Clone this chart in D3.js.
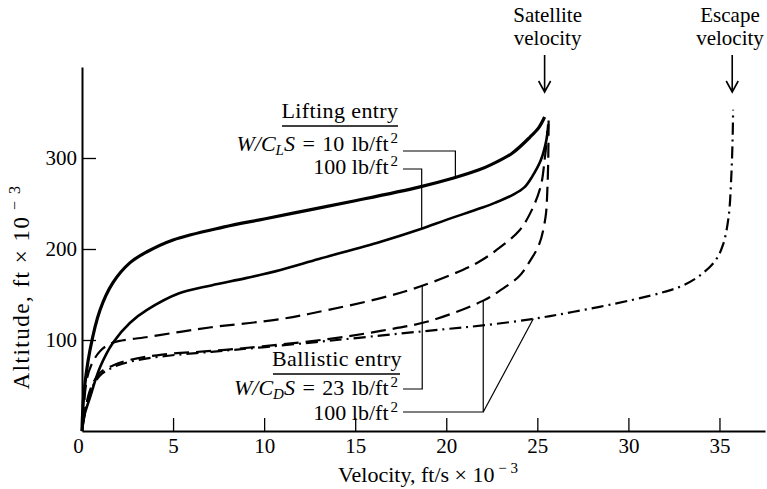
<!DOCTYPE html>
<html>
<head>
<meta charset="utf-8">
<script src="https://cdn.jsdelivr.net/npm/d3@7"></script>
<style>
  body { margin: 0; background: #fff; }
  svg text { font-family: "Liberation Serif", "Times New Roman", serif; fill: #000; }
  .axis path, .axis line { stroke: #000; }
</style>
</head>
<body>
<div id="grafica"></div>
<script>
// ticks
const xTicks = [0, 5, 10, 15, 20, 25, 30, 35]
const yTicks = [100, 200, 300]

// [velocity (ft/s x 10^-3), altitude (ft x 10^-3)]
const lifting10 = [[0,0],[0.1,40],[0.44,89],[0.99,133],[1.7,163],[2.64,185],[3.57,197],[5,210],[7.75,224],
  [10,233],[12.5,243],[15,253],[18.5,268],[20.4,278],[21.8,287],[22.5,293],[23.6,305],[24.6,323],[25.1,334],[25.4,345]]
const lifting100 = [[0,0],[0.1,15],[0.44,37],[0.99,70],[1.7,97],[2.64,119],[3.57,133],[5.3,151],[7.1,160],[9,168],
  [10.9,177],[13,189],[16.4,208],[18.6,222],[20,232],[21.9,245],[22.7,251],[23.7,260],[24.3,268],[24.7,279],
  [25.2,298],[25.5,320],[25.6,337]]
const ballistic23 = [[0.05,10],[0.25,55],[0.5,72],[1,88],[1.7,97],[3.5,103],[5.4,109],[7.1,114],[10.9,123],
  [13.5,133],[16.4,146],[18.6,159],[20.9,177],[21.8,186],[22.7,198],[24,220],[24.7,243],[25.2,270],[25.4,298],
  [25.5,316],[25.55,330]]
const ballistic100 = [[0.05,8],[0.44,45],[0.99,64],[1.7,72],[2.6,78],[4.4,84],[7.1,88],[9.9,93],[13.5,101],
  [16.4,110],[19.1,121],[22,143],[23,155],[24,170],[24.6,187],[25.1,205],[25.45,235],[25.55,265],[25.6,300],[25.62,345]]
const escape = [[0.05,6],[0.44,42],[0.99,61],[1.7,70],[2.6,76],[4.4,82],[7.1,87],[9.9,92],[13.5,99],[17.4,107],
  [20,112],[22,116],[24.7,123],[27,131],[30.2,144],[32,153],[33,160],[34,172],[34.8,188],[35.2,205],[35.5,235],
  [35.65,280],[35.72,320],[35.75,353]]

const satelliteV = 25.4
const escapeV = 35.7

// figura
const ancho = 767, alto = 489
const margin = {top: 67, right: 2, bottom: 58, left: 82}
const width = ancho - margin.left - margin.right
const height = alto - margin.top - margin.bottom

const svg = d3.select("#grafica").append("svg")
  .attr("width", ancho).attr("height", alto)

const x = d3.scaleLinear().domain([0, 37.5]).range([margin.left, margin.left + width])
const y = d3.scaleLinear().domain([0, 400]).range([margin.top + height, margin.top])

// ejes
const xAxis = svg.append("g").attr("class", "axis")
  .attr("transform", `translate(0,${y(0)})`)
  .call(d3.axisBottom(x).tickValues(xTicks).tickSize(-13).tickSizeOuter(0).tickPadding(7))
const yAxis = svg.append("g").attr("class", "axis")
  .attr("transform", `translate(${x(0)},0)`)
  .call(d3.axisLeft(y).tickValues(yTicks).tickSize(-14).tickSizeOuter(0).tickPadding(5))

svg.selectAll(".axis .domain").attr("stroke-width", 2)
svg.selectAll(".axis .tick line").attr("stroke-width", 1.3)
svg.selectAll(".axis text").attr("font-size", 21).attr("font-family", "Liberation Serif")
xAxis.selectAll(".tick").filter(d => d === 0).select("text").attr("dx", -4)

// titulos de ejes
const xt = svg.append("text").attr("x", 428).attr("y", 482)
  .attr("text-anchor", "middle").attr("font-size", 22)
xt.append("tspan").text("Velocity, ft/s × 10")
xt.append("tspan").attr("dy", -9).attr("font-size", 15).text(" − 3")

const yt = svg.append("text")
  .attr("transform", `translate(29,287) rotate(-90)`)
  .attr("text-anchor", "middle").attr("font-size", 23).attr("letter-spacing", 1.5)
yt.append("tspan").text("Altitude, ft × 10")
yt.append("tspan").attr("dy", -9).attr("font-size", 16).text(" − 3")

// curvas
const line = d3.line().x(d => x(d[0])).y(d => y(d[1])).curve(d3.curveCatmullRom.alpha(0.5))
const series = [
  {data: lifting10, w: 3.2, dash: null},
  {data: lifting100, w: 2.6, dash: null},
  {data: ballistic23, w: 2.2, dash: "15,7"},
  {data: ballistic100, w: 2.2, dash: "15,7"},
  {data: escape, w: 2.2, dash: "12,5,2,5"}
]
svg.append("g").selectAll("path").data(series).join("path")
  .attr("d", d => line(d.data))
  .attr("fill", "none").attr("stroke", "#000")
  .attr("stroke-width", d => d.w)
  .attr("stroke-dasharray", d => d.dash)
  .attr("stroke-linecap", "butt")

// altitud de una curva a cierta velocidad
function hAt(data, v) {
  for (let i = 1; i < data.length; i++) {
    if (data[i][0] >= v) {
      const a = data[i - 1], b = data[i]
      return a[1] + (b[1] - a[1]) * (v - a[0]) / (b[0] - a[0])
    }
  }
  return data[data.length - 1][1]
}

// texto con cursivas, subindices y superindices
function richText(xr, yb, parts, spacing) {
  const t = svg.append("text").attr("x", xr).attr("y", yb)
    .attr("text-anchor", "end").attr("font-size", 22)
  if (spacing) t.attr("word-spacing", spacing)
  let shift = 0
  parts.forEach(p => {
    const s = t.append("tspan").text(p.t)
    let target = 0
    if (p.s === "sub") { target = 4; s.attr("font-size", 15).attr("font-style", "italic") }
    else if (p.s === "sup") { target = -8; s.attr("font-size", 15).attr("dx", 2) }
    else if (p.s === "i") { s.attr("font-style", "italic") }
    if (target !== shift) { s.attr("dy", target - shift); shift = target }
  })
  return t
}

const leader = svg.append("g").attr("fill", "none").attr("stroke", "#000").attr("stroke-width", 1.2)

// Lifting entry
svg.append("text").attr("x", 340).attr("y", 118).attr("text-anchor", "middle")
  .attr("font-size", 22).attr("letter-spacing", 0.4).text("Lifting entry")
svg.append("line").attr("x1", 282).attr("x2", 398).attr("y1", 126).attr("y2", 126)
  .attr("stroke", "#000").attr("stroke-width", 1.5)
richText(398, 151, [{t: "W", s: "i"}, {t: "/", s: "i"}, {t: "C", s: "i"}, {t: "L", s: "sub"}, {t: "S", s: "i"},
  {t: " = 10 lb/ft"}, {t: "2", s: "sup"}], 2)
richText(398, 174, [{t: "100 lb/ft"}, {t: "2", s: "sup"}])
leader.append("path").attr("d", `M403,151H${x(20.5)}V${y(hAt(lifting10, 20.5))}`)
leader.append("path").attr("d", `M403,169H${x(18.65)}V${y(hAt(lifting100, 18.65))}`)

// Ballistic entry
svg.append("text").attr("x", 337).attr("y", 366).attr("text-anchor", "middle")
  .attr("font-size", 22).attr("letter-spacing", 0.4).text("Ballistic entry")
svg.append("line").attr("x1", 273).attr("x2", 400).attr("y1", 374).attr("y2", 374)
  .attr("stroke", "#000").attr("stroke-width", 1.5)
richText(398, 395, [{t: "W", s: "i"}, {t: "/", s: "i"}, {t: "C", s: "i"}, {t: "D", s: "sub"}, {t: "S", s: "i"},
  {t: " = 23 lb/ft"}, {t: "2", s: "sup"}], 2)
richText(398, 420, [{t: "100 lb/ft"}, {t: "2", s: "sup"}])
leader.append("path").attr("d", `M403,389H${x(18.68)}V${y(hAt(ballistic23, 18.68))}`)
leader.append("path").attr("d", `M403,412H${x(22.03)}V${y(hAt(ballistic100, 22.03))}`)
leader.append("path").attr("d", `M${x(22.03)},412L${x(24.78)},${y(hAt(escape, 24.78))}`)

// flechas de velocidad
const arrows = [{v: satelliteV, l1: "Satellite", l2: "velocity"}, {v: escapeV, l1: "Escape", l2: "velocity"}]
arrows.forEach(a => {
  const ax = x(a.v)
  const tx = Math.min(ax + 3, ancho - 37)
  svg.append("text").attr("x", tx).attr("y", 22).attr("text-anchor", "middle").attr("font-size", 21).text(a.l1)
  svg.append("text").attr("x", tx).attr("y", 45).attr("text-anchor", "middle").attr("font-size", 21).text(a.l2)
  svg.append("path").attr("d", `M${ax},55V92M${ax - 6},81L${ax},92L${ax + 6},81`)
    .attr("fill", "none").attr("stroke", "#000").attr("stroke-width", 1.6)
})
</script>
</body>
</html>
